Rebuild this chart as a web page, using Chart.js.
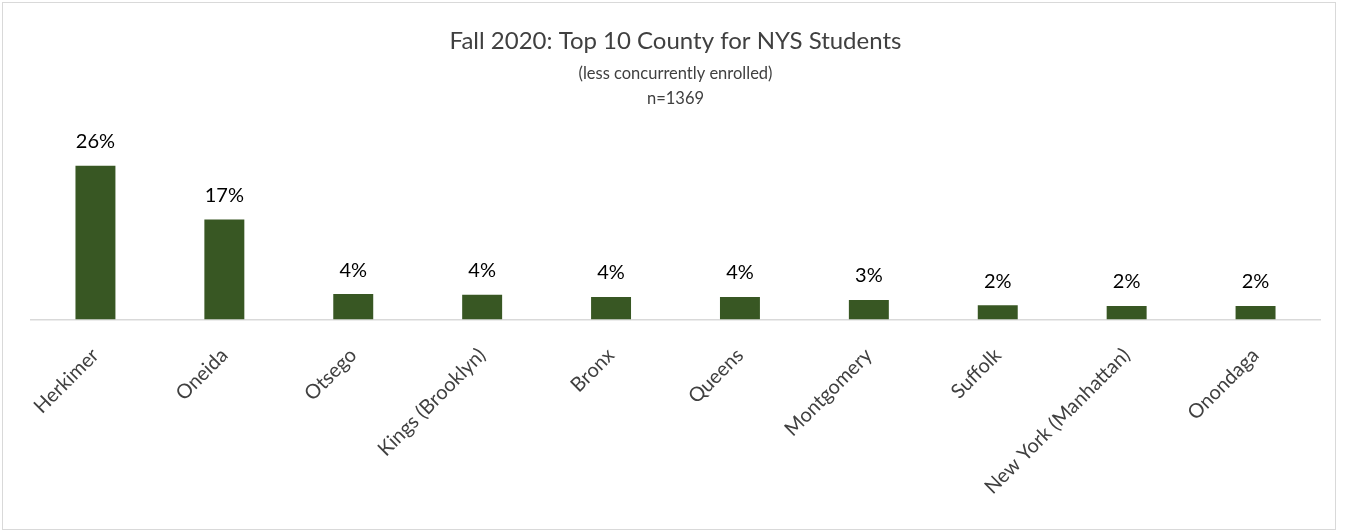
<!DOCTYPE html>
<html>
<head>
<meta charset="utf-8">
<script src="https://cdn.jsdelivr.net/npm/chart.js@4.4.1/dist/chart.umd.min.js"></script>
<style>
  html, body { margin: 0; padding: 0; background: #fff; }
  #wrap { position: relative; width: 1346px; height: 531px; }
  #frame { position: absolute; left: 2px; top: 2px; width: 1332px; height: 526px; border: 1px solid #d9d9d9; pointer-events: none; }
</style>
</head>
<body>
<div id="wrap">
  <canvas id="countyChart" width="1346" height="531"></canvas>
  <div id="frame"></div>
</div>
<script>
// 郡別の学生割合（上位10）
const counties = ['Herkimer', 'Oneida', 'Otsego', 'Kings (Brooklyn)', 'Bronx', 'Queens', 'Montgomery', 'Suffolk', 'New York (Manhattan)', 'Onondaga'];
const shares = [26.0, 16.9, 4.3, 4.2, 3.8, 3.8, 3.3, 2.4, 2.3, 2.3];
const titleText = 'Fall 2020: Top 10 County for NYS Students';
const subtitleLines = ['(less concurrently enrolled)', 'n=1369'];

const FONT = "Lato, 'Liberation Sans', sans-serif";

// バーの上にパーセント表示
const valueLabels = {
  id: 'valueLabels',
  afterDatasetsDraw(chart) {
    const ctx = chart.ctx;
    const meta = chart.getDatasetMeta(0);
    ctx.save();
    ctx.font = '20px ' + FONT;
    ctx.fillStyle = '#000000';
    ctx.textAlign = 'center';
    ctx.textBaseline = 'bottom';
    meta.data.forEach((bar, i) => {
      const txt = Math.round(shares[i]) + '%';
      ctx.fillText(txt, bar.x, bar.y - 14);
    });
    ctx.restore();
  }
};

new Chart(document.getElementById('countyChart').getContext('2d'), {
  type: 'bar',
  data: {
    labels: counties,
    datasets: [{
      data: shares,
      backgroundColor: '#385723',
      borderWidth: 0,
      barPercentage: 0.31,
      categoryPercentage: 1.0
    }]
  },
  options: {
    responsive: false,
    animation: false,
    layout: {
      padding: { left: 31, right: 26, top: 0, bottom: 16 }
    },
    plugins: {
      legend: { display: false },
      tooltip: { enabled: false },
      title: {
        display: true,
        text: titleText,
        color: '#404040',
        font: { family: FONT, size: 24, weight: 'normal' },
        padding: { top: 27, bottom: 5 }
      },
      subtitle: {
        display: true,
        text: subtitleLines,
        color: '#404040',
        font: { family: FONT, size: 16.5, weight: 'normal', lineHeight: 1.52 },
        padding: { top: 0, bottom: 31 }
      }
    },
    scales: {
      x: {
        grid: { display: false },
        border: { display: true, color: '#d9d9d9', width: 1.5 },
        ticks: {
          color: '#404040',
          font: { family: FONT, size: 20 },
          maxRotation: 45,
          minRotation: 45,
          padding: 16,
          autoSkip: false
        }
      },
      y: {
        display: false,
        min: 0,
        max: 30
      }
    }
  },
  plugins: [valueLabels]
});
</script>
</body>
</html>
